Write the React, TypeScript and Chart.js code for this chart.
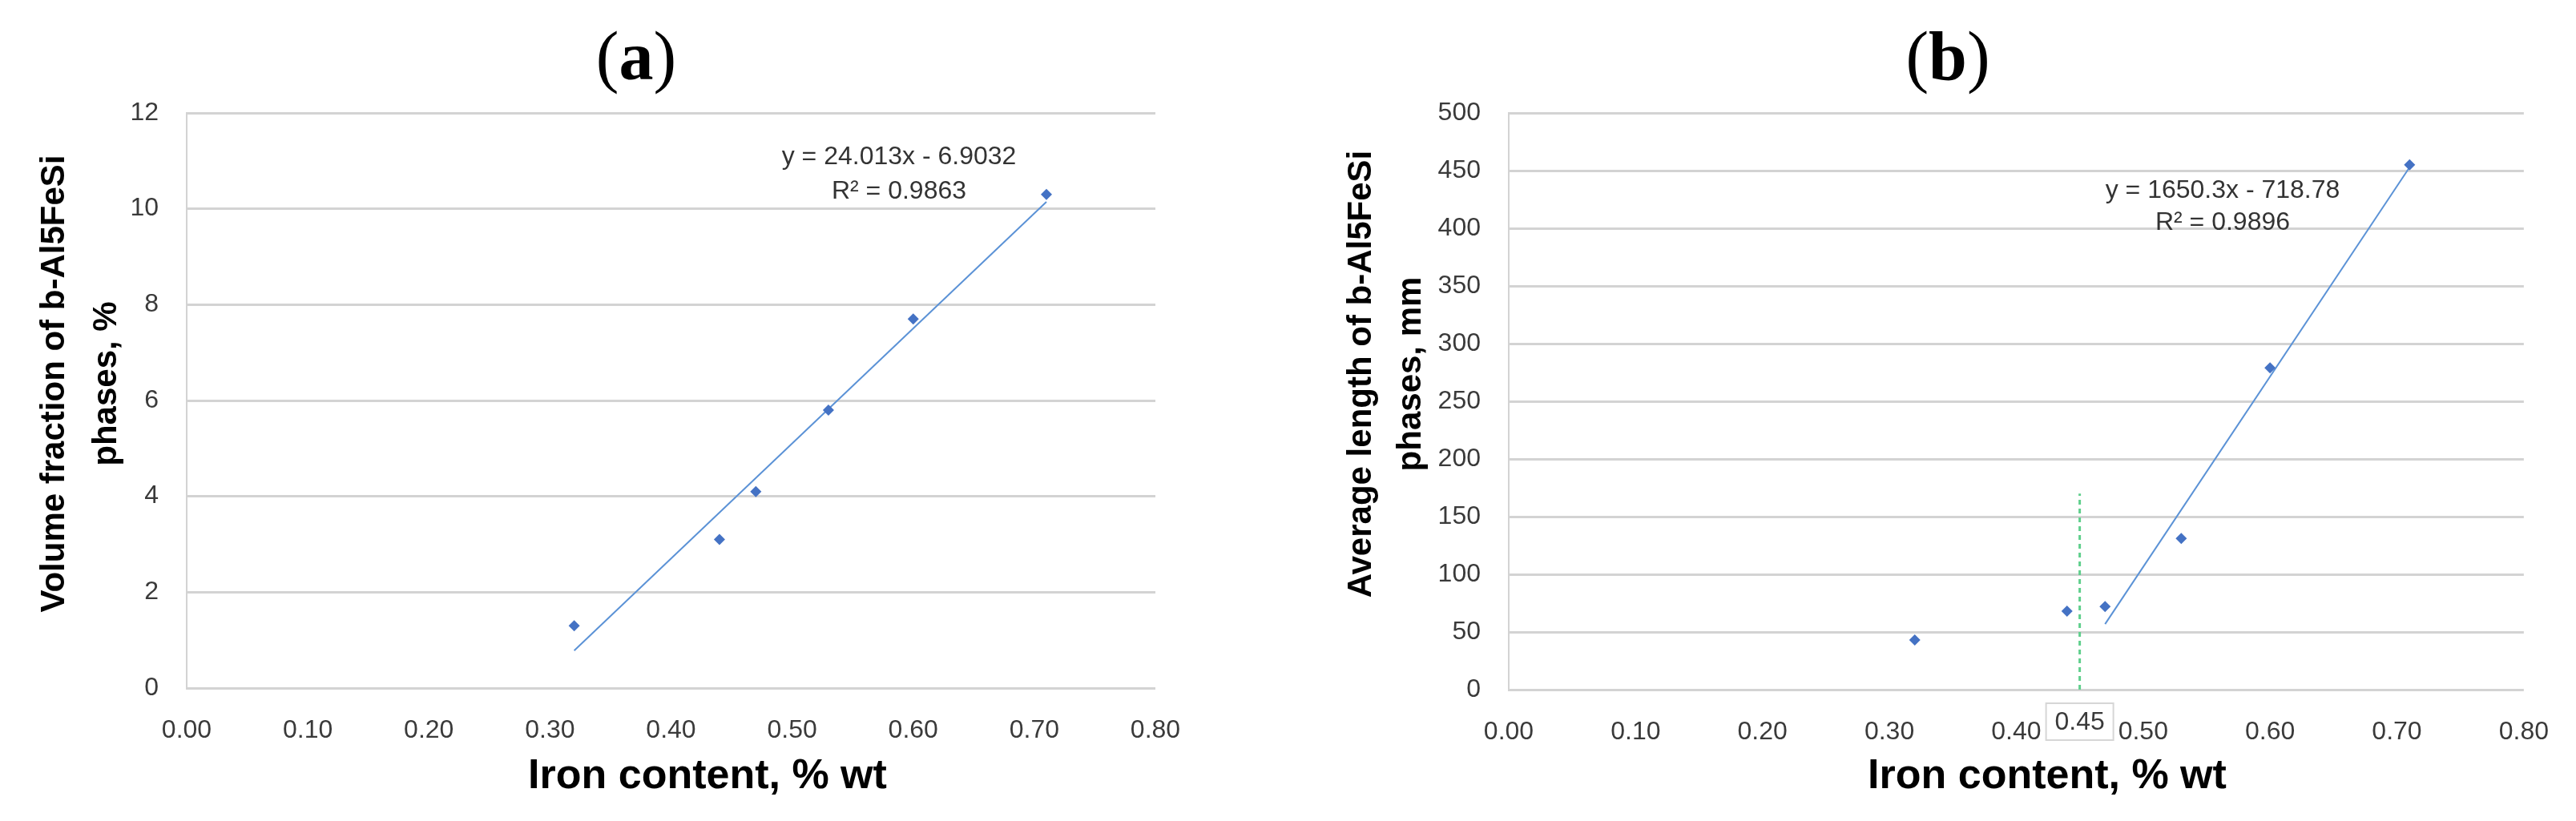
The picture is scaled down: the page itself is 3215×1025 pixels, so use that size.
import React, { useEffect, useRef } from "react";
import { Chart, registerables } from "chart.js";

Chart.register(...registerables);

// ---------- DATA ----------
const xTickValues = [0, 0.1, 0.2, 0.3, 0.4, 0.5, 0.6, 0.7, 0.8];

const ironContentA = [0.32, 0.44, 0.47, 0.53, 0.6, 0.71];
const volumeFraction = [1.3, 3.1, 4.1, 5.8, 7.7, 10.3];
const yTicksA = [0, 2, 4, 6, 8, 10, 12];
const trendA = { slope: 24.013, intercept: -6.9032, from: 0.32, to: 0.71 };
const equationA = ["y = 24.013x - 6.9032", "R\u00B2 = 0.9863"];

const ironContentB = [0.32, 0.44, 0.47, 0.53, 0.6, 0.71];
const averageLength = [43, 68, 72, 131, 279, 455];
const yTicksB = [0, 50, 100, 150, 200, 250, 300, 350, 400, 450, 500];
const trendB = { slope: 1650.3, intercept: -718.78, from: 0.47, to: 0.71 };
const equationB = ["y = 1650.3x - 718.78", "R\u00B2 = 0.9896"];
const thresholdX = 0.45;
const thresholdTop = 170;
const thresholdLabel = "0.45";

const xAxisTitle = "Iron content, % wt";
const yTitleA = ["Volume fraction of b-Al5FeSi", "phases, %"];
const yTitleB = ["Average length of b-Al5FeSi", "phases, mm"];

// ---------- STYLE ----------
const SANS = "'Liberation Sans', Arial, Helvetica, sans-serif";
const SERIF = "'Liberation Serif', 'Times New Roman', serif";
const POINT_COLOR = "#4472C4";
const TREND_COLOR = "#5B92D6";
const GRID_COLOR = "#d3d3d3";
const TICK_COLOR = "#3a3a3a";
const TEXT_COLOR = "#333333";

type PanelCfg = {
  left: number;
  width: number;
  height: number;
  yAxisWidth: number;
  padRight: number;
  padTop: number;
  padBottom: number;
  xs: number[];
  ys: number[];
  yTicks: number[];
  trend: { slope: number; intercept: number; from: number; to: number };
  equation: string[];
  eqX: number;
  eqBaselines: number[];
  letter: string;
  letterX: number;
  yTitle: string[];
  yTitleBaselines: number[];
  yTitleCenter: number;
  xTitleX: number;
  threshold?: boolean;
};

function makeTextPlugin(cfg: PanelCfg) {
  return {
    id: "panelText",
    afterDraw(chart: any) {
      const ctx: CanvasRenderingContext2D = chart.ctx;
      const ca = chart.chartArea;
      const xs = chart.scales.x;
      ctx.save();

      // panel letter "(a)" / "(b)"
      const fs = 86;
      const parenFont = `${fs}px ${SERIF}`;
      const letterFont = `bold ${fs}px ${SERIF}`;
      ctx.fillStyle = "#000";
      ctx.textBaseline = "alphabetic";
      ctx.textAlign = "left";
      ctx.font = parenFont;
      const wp = ctx.measureText("(").width;
      const wp2 = ctx.measureText(")").width;
      ctx.font = letterFont;
      const wl = ctx.measureText(cfg.letter).width;
      const x0 = cfg.letterX - (wp + wl + wp2) / 2;
      const by = 99;
      ctx.font = parenFont;
      ctx.fillText("(", x0, by);
      ctx.font = letterFont;
      ctx.fillText(cfg.letter, x0 + wp, by);
      ctx.font = parenFont;
      ctx.fillText(")", x0 + wp + wl, by);

      // trend equation
      ctx.font = `32px ${SANS}`;
      ctx.fillStyle = TEXT_COLOR;
      ctx.textAlign = "center";
      cfg.equation.forEach((t, i) => ctx.fillText(t, cfg.eqX, cfg.eqBaselines[i]));

      // x axis title
      ctx.font = `bold 52px ${SANS}`;
      ctx.fillStyle = "#000";
      ctx.fillText(xAxisTitle, cfg.xTitleX, 984);

      // y axis title (rotated)
      ctx.font = `bold 42px ${SANS}`;
      cfg.yTitle.forEach((t, i) => {
        ctx.save();
        ctx.translate(cfg.yTitleBaselines[i], cfg.yTitleCenter);
        ctx.rotate(-Math.PI / 2);
        ctx.fillText(t, 0, 0);
        ctx.restore();
      });

      // boxed threshold label
      if (cfg.threshold) {
        const px = xs.getPixelForValue(thresholdX);
        const bw = 84;
        const bh = 46;
        const top = ca.bottom + 17;
        ctx.fillStyle = "#fff";
        ctx.fillRect(px - bw / 2, top, bw, bh);
        ctx.strokeStyle = "#d6d6d6";
        ctx.lineWidth = 2;
        ctx.strokeRect(px - bw / 2, top, bw, bh);
        ctx.fillStyle = TICK_COLOR;
        ctx.font = `32px ${SANS}`;
        ctx.textAlign = "center";
        ctx.fillText(thresholdLabel, px, top + 33);
      }
      ctx.restore();
    },
  };
}

function Panel({ cfg }: { cfg: PanelCfg }) {
  const ref = useRef<HTMLCanvasElement>(null);
  useEffect(() => {
    const points = cfg.xs.map((x, i) => ({ x, y: cfg.ys[i] }));
    const t = cfg.trend;
    const trendPts = [
      { x: t.from, y: t.slope * t.from + t.intercept },
      { x: t.to, y: t.slope * t.to + t.intercept },
    ];
    const datasets: any[] = [
      {
        label: "data",
        data: points,
        showLine: false,
        pointStyle: "rectRot",
        pointRadius: 7,
        backgroundColor: POINT_COLOR,
        borderColor: POINT_COLOR,
        borderWidth: 0,
        order: 1,
      },
      {
        label: "trend",
        data: trendPts,
        showLine: true,
        pointRadius: 0,
        borderColor: TREND_COLOR,
        borderWidth: 2,
        fill: false,
        order: 2,
      },
    ];
    if (cfg.threshold) {
      datasets.push({
        label: "threshold",
        data: [
          { x: thresholdX, y: 0 },
          { x: thresholdX, y: thresholdTop },
        ],
        showLine: true,
        pointRadius: 0,
        borderColor: "#5fcf8c",
        borderWidth: 3,
        borderDash: [6, 5],
        fill: false,
        order: 3,
      });
    }
    const yMax = cfg.yTicks[cfg.yTicks.length - 1];
    const chart = new Chart(ref.current as HTMLCanvasElement, {
      type: "scatter",
      data: { datasets },
      plugins: [makeTextPlugin(cfg)],
      options: {
        animation: false,
        responsive: false,
        devicePixelRatio: 1,
        layout: {
          padding: { left: 0, right: cfg.padRight, top: cfg.padTop, bottom: cfg.padBottom },
        },
        plugins: { legend: { display: false }, tooltip: { enabled: false }, title: { display: false } },
        scales: {
          x: {
            type: "linear",
            min: xTickValues[0],
            max: xTickValues[xTickValues.length - 1],
            afterBuildTicks: (s: any) => {
              s.ticks = xTickValues.map((v) => ({ value: v }));
            },
            afterFit: (s: any) => {
              s.height = 100;
            },
            grid: { display: false, drawTicks: false },
            border: { display: false },
            ticks: {
              padding: 34,
              color: TICK_COLOR,
              font: { family: SANS, size: 32 },
              maxRotation: 0,
              autoSkip: false,
              callback: (v: any) => Number(v).toFixed(2),
            },
          },
          y: {
            type: "linear",
            min: cfg.yTicks[0],
            max: yMax,
            afterBuildTicks: (s: any) => {
              s.ticks = cfg.yTicks.map((v) => ({ value: v }));
            },
            afterFit: (s: any) => {
              s.width = cfg.yAxisWidth;
            },
            grid: { color: GRID_COLOR, lineWidth: 3, drawTicks: false },
            border: { display: true, color: GRID_COLOR, width: 2 },
            ticks: {
              padding: 35,
              color: TICK_COLOR,
              font: { family: SANS, size: 32 },
              autoSkip: false,
              callback: (v: any) => String(v),
            },
          },
        },
      } as any,
    });
    return () => chart.destroy();
  }, []);
  return (
    <canvas
      ref={ref}
      width={cfg.width}
      height={cfg.height}
      style={{ position: "absolute", left: cfg.left, top: 0, width: cfg.width, height: cfg.height }}
    />
  );
}

const panelA: PanelCfg = {
  left: 0,
  width: 1600,
  height: 1025,
  yAxisWidth: 233,
  padRight: 1600 - 1442,
  padTop: 141,
  padBottom: 1025 - 859 - 100,
  xs: ironContentA,
  ys: volumeFraction,
  yTicks: yTicksA,
  trend: trendA,
  equation: equationA,
  eqX: 1122,
  eqBaselines: [205, 248],
  letter: "a",
  letterX: 794,
  yTitle: yTitleA,
  yTitleBaselines: [80, 145],
  yTitleCenter: 479,
  xTitleX: 883,
};

const panelB: PanelCfg = {
  left: 1600,
  width: 1615,
  height: 1025,
  yAxisWidth: 283,
  padRight: 1615 - 1560,
  padTop: 141,
  padBottom: 1025 - 861 - 100,
  xs: ironContentB,
  ys: averageLength,
  yTicks: yTicksB,
  trend: trendB,
  equation: equationB,
  eqX: 1174,
  eqBaselines: [247, 287],
  letter: "b",
  letterX: 831,
  yTitle: yTitleB,
  yTitleBaselines: [111, 173],
  yTitleCenter: 467,
  xTitleX: 955,
  threshold: true,
};

export default function App() {
  return (
    <div style={{ position: "absolute", left: 0, top: 0, width: 3215, height: 1025, background: "#fff", overflow: "hidden" }}>
      <Panel cfg={panelA} />
      <Panel cfg={panelB} />
    </div>
  );
}
